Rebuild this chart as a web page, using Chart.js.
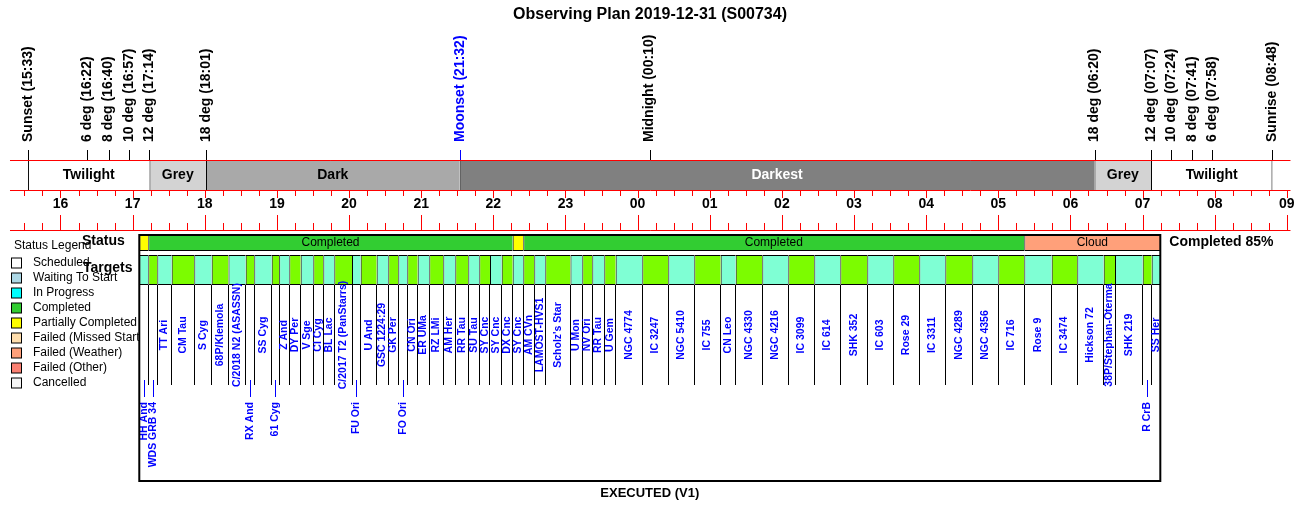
<!DOCTYPE html>
<html>
<head>
<meta charset="utf-8">
<title>Observing Plan 2019-12-31 (S00734)</title>
<script src="https://cdn.jsdelivr.net/npm/chart.js@4/dist/chart.umd.min.js"></script>
<style>
  html, body { margin: 0; padding: 0; background: #fff; }
  canvas { display: block; }
</style>
</head>
<body>
<canvas id="plan" width="1300" height="514"></canvas>
<script>
// --- DATOS ---
const planTitle = 'Observing Plan 2019-12-31 (S00734)';
const planVersion = 'EXECUTED (V1)';

// Eventos de la noche (marcas sobre la franja)
const eventNames = ['Sunset', '6 deg', '8 deg', '10 deg', '12 deg', '18 deg', 'Moonset', 'Midnight',
                    '18 deg', '12 deg', '10 deg', '8 deg', '6 deg', 'Sunrise'];
const eventTimes = ['15:33', '16:22', '16:40', '16:57', '17:14', '18:01', '21:32', '00:10',
                    '06:20', '07:07', '07:24', '07:41', '07:58', '08:48'];

// Franjas de oscuridad
const bandNames = ['Twilight', 'Grey', 'Dark', 'Darkest', 'Grey', 'Twilight'];
const bandEdges = ['15:33', '17:14', '18:01', '21:32', '06:20', '07:07', '08:48'];

// Etiquetas de las horas del eje
const hourLabels = ['16', '17', '18', '19', '20', '21', '22', '23', '00',
                    '01', '02', '03', '04', '05', '06', '07', '08', '09'];

// Objetivos del plan
const targetNames = [
  'HH And', 'WDS GRB 34', 'TT Ari', 'CM Tau', 'S Cyg', '68P/Klemola', 'C/2018 N2 (ASASSN)', 'RX And',
  'SS Cyg', '61 Cyg', 'Z And', 'DY Per', 'V Sge', 'CI Cyg', 'BL Lac', 'C/2017 T2 (PanStarrs)',
  'FU Ori', 'U And', 'GSC 1224:29', 'GK Per', 'FO Ori', 'CN Ori', 'ER UMa', 'RZ LMi',
  'AM Her', 'RR Tau', 'SU Tau', 'SY Cnc', 'SY Cnc', 'DX Cnc', 'SY Cnc', 'AM CVn',
  'LAMOST-HVS1', "Scholz's Star", 'U Mon', 'NV Ori', 'RR Tau', 'U Gem', 'NGC 4774', 'IC 3247',
  'NGC 5410', 'IC 755', 'CN Leo', 'NGC 4330', 'NGC 4216', 'IC 3099', 'IC 614', 'SHK 352',
  'IC 603', 'Rose 29', 'IC 3311', 'NGC 4289', 'NGC 4356', 'IC 716', 'Rose 9', 'IC 3474',
  'Hickson 72', '38P/Stephan-Oterma', 'SHK 219', 'R CrB', 'SS Her'
];
const targetStarts = [
  '17:05:32', '17:13:01', '17:20:31', '17:32:29', '17:51:17', '18:05:45', '18:19:44', '18:34:02',
  '18:41:11', '18:55:40', '19:01:54', '19:10:18', '19:19:47', '19:30:16', '19:38:35', '19:47:44',
  '20:02:27', '20:09:41', '20:22:59', '20:32:38', '20:40:57', '20:48:26', '20:57:05', '21:06:44',
  '21:18:23', '21:28:22', '21:39:11', '21:48:19', '21:57:13', '22:06:57', '22:16:06', '22:24:55',
  '22:34:04', '22:43:13', '23:04:11', '23:13:59', '23:22:19', '23:32:17', '23:41:46', '00:03:53',
  '00:25:31', '00:47:08', '01:09:06', '01:21:35', '01:43:42', '02:05:20', '02:26:57', '02:48:35',
  '03:11:02', '03:32:40', '03:54:17', '04:15:55', '04:38:22', '05:00:00', '05:21:37', '05:44:24',
  '06:05:41', '06:27:39', '06:37:03', '07:00:05', '07:07:35'
];
const planEnd = '07:14:44';
const targetStatus = [
  'Partial',
  'Completed', 'Completed', 'Completed', 'Completed', 'Completed', 'Completed', 'Completed', 'Completed',
  'Completed', 'Completed', 'Completed', 'Completed', 'Completed', 'Completed', 'Completed', 'Completed',
  'Completed', 'Completed', 'Completed', 'Completed', 'Completed', 'Completed', 'Completed', 'Completed',
  'Completed', 'Completed', 'Completed', 'Completed', 'Completed',
  'Partial',
  'Completed', 'Completed', 'Completed', 'Completed', 'Completed', 'Completed', 'Completed', 'Completed',
  'Completed', 'Completed', 'Completed', 'Completed', 'Completed', 'Completed', 'Completed', 'Completed',
  'Completed', 'Completed', 'Completed', 'Completed', 'Completed', 'Completed', 'Completed',
  'Cloud', 'Cloud', 'Cloud', 'Cloud', 'Cloud', 'Cloud', 'Cloud'
];

const legendLabels = ['Scheduled', 'Waiting To Start', 'In Progress', 'Completed', 'Partially Completed',
                      'Failed (Missed Start', 'Failed (Weather)', 'Failed (Other)', 'Cancelled'];

// --- ESTILOS ---
const FONT = '"Liberation Sans", Arial, sans-serif';
const bandColors = { 'Twilight': '#ffffff', 'Grey': '#d3d3d3', 'Dark': '#a9a9a9', 'Darkest': '#808080' };
const statusColors = { 'Partial': '#ffff00', 'Completed': '#32cd32', 'Cloud': '#ffa07a' };
const cellColors = ['#7fffd4', '#7cfc00'];
const legendColors = ['#ffffff', '#add8e6', '#00ffff', '#32cd32', '#ffff00', '#ffdead', '#ffa07a', '#fa8072', '#f5f5f5'];

// Ventana de tiempo visible y filas (unidades del eje y = filas del lienzo)
const viewStart = '15:09:41';
const viewEnd = '09:10:55';
const axisFrom = '15:18';
const axisTo = '09:03';
const ROW = {
  eventLabel: 142, eventTick: 150, bandTop: 160, bandBottom: 190,
  hourLabel: 204, axisBottom: 230,
  statusTop: 235, statusBottom: 251, targetTop: 255, targetBottom: 285,
  leaderBottom: 385, targetLabel: 335, belowTop: 380, belowBottom: 397, belowLabel: 402,
  frameBottom: 481
};
const SHORT_SLOT_MIN = 8; // minutos: objetivos más cortos llevan la etiqueta debajo

// --- UTILIDADES ---
function toHours(s) {
  const p = s.split(':').map(Number);
  const h = p[0] + (p[1] || 0) / 60 + (p[2] || 0) / 3600;
  return h < 12 ? h + 24 : h;
}

const starts = targetStarts.map(toHours);
const ends = starts.slice(1).concat([toHours(planEnd)]);

// Agrupa estados consecutivos para la fila "Status"
const statusSegments = [];
targetStatus.forEach((st, i) => {
  const last = statusSegments[statusSegments.length - 1];
  if (last && last.status === st) {
    last.end = ends[i];
  } else {
    statusSegments.push({ status: st, start: starts[i], end: ends[i] });
  }
});
const completedPct = Math.round(100 * targetStatus.filter(s => s === 'Completed').length / targetStatus.length);

function vText(ctx, text, x, y, align) {
  ctx.save();
  ctx.translate(x, y);
  ctx.rotate(-Math.PI / 2);
  ctx.textAlign = align;
  ctx.textBaseline = 'middle';
  ctx.fillText(text, 0, 0);
  ctx.restore();
}

function vLine(ctx, x, y1, y2) {
  const xx = Math.round(x) + 0.5;
  ctx.beginPath();
  ctx.moveTo(xx, y1);
  ctx.lineTo(xx, y2);
  ctx.stroke();
}

function hLine(ctx, x1, x2, y) {
  const yy = Math.round(y) + 0.5;
  ctx.beginPath();
  ctx.moveTo(x1, yy);
  ctx.lineTo(x2, yy);
  ctx.stroke();
}

// --- PLUGIN DE DECORACIÓN ---
const planPlugin = {
  id: 'planDecor',
  beforeDraw(chart) {
    const ctx = chart.ctx;
    ctx.save();
    ctx.fillStyle = '#ffffff';
    ctx.fillRect(0, 0, chart.width, chart.height);
    ctx.restore();
  },
  afterDatasetsDraw(chart) {
    const ctx = chart.ctx;
    const px = t => chart.scales.x.getPixelForValue(t);
    const py = v => chart.scales.y.getPixelForValue(v);
    ctx.save();

    // Título
    ctx.fillStyle = '#000';
    ctx.font = 'bold 16px ' + FONT;
    ctx.textAlign = 'center';
    ctx.textBaseline = 'middle';
    ctx.fillText(planTitle, chart.width / 2, py(15));

    // Eventos
    ctx.lineWidth = 1;
    ctx.font = 'bold 14px ' + FONT;
    eventNames.forEach((name, i) => {
      const x = px(toHours(eventTimes[i]));
      const color = name === 'Moonset' ? '#0000ff' : '#000000';
      ctx.strokeStyle = color;
      ctx.fillStyle = color;
      vLine(ctx, x, py(ROW.eventTick), py(ROW.bandTop));
      vText(ctx, name + ' (' + eventTimes[i] + ')', x, py(ROW.eventLabel), 'left');
    });

    // Etiquetas de las franjas
    ctx.textAlign = 'center';
    ctx.textBaseline = 'middle';
    bandNames.forEach((name, i) => {
      const x = (px(toHours(bandEdges[i])) + px(toHours(bandEdges[i + 1]))) / 2;
      ctx.fillStyle = name === 'Darkest' ? '#ffffff' : '#000000';
      ctx.fillText(name, x, py((ROW.bandTop + ROW.bandBottom) / 2));
    });

    // Eje de tiempo
    const x1 = px(toHours(axisFrom)), x2 = px(toHours(axisTo));
    ctx.strokeStyle = '#ff0000';
    hLine(ctx, x1, x2, py(ROW.bandTop));
    hLine(ctx, x1, x2, py(ROW.bandBottom));
    hLine(ctx, x1, x2, py(ROW.axisBottom));
    const firstHour = toHours(hourLabels[0] + ':00');
    const lastHour = toHours(hourLabels[hourLabels.length - 1] + ':00');
    for (let q = Math.ceil(toHours(axisFrom) * 4); q <= lastHour * 4; q++) {
      const x = px(q / 4);
      const isHour = q % 4 === 0;
      vLine(ctx, x, py(ROW.bandBottom), py(ROW.bandBottom) + (isHour ? 8 : 6));
      vLine(ctx, x, py(ROW.axisBottom) - (isHour ? 15 : 7), py(ROW.axisBottom));
    }
    ctx.fillStyle = '#000';
    hourLabels.forEach((lab, i) => {
      ctx.fillText(lab, px(firstHour + i), py(ROW.hourLabel));
    });

    // Texto de la fila de estado
    ctx.font = '12px ' + FONT;
    statusSegments.forEach(seg => {
      const a = px(seg.start), b = px(seg.end);
      if (ctx.measureText(seg.status).width + 6 < b - a) {
        ctx.fillText(seg.status, (a + b) / 2, py((ROW.statusTop + ROW.statusBottom) / 2));
      }
    });

    // Líneas guía y etiquetas de objetivos
    ctx.strokeStyle = '#000';
    starts.forEach(t => vLine(ctx, px(t) - 0.5, py(ROW.targetBottom), py(ROW.leaderBottom)));
    ctx.font = 'bold 10.5px ' + FONT;
    ctx.fillStyle = '#0000ff';
    ctx.strokeStyle = '#0000ff';
    targetNames.forEach((name, i) => {
      const cx = (px(starts[i]) + px(ends[i])) / 2;
      const minutes = (ends[i] - starts[i]) * 60;
      // el último objetivo tiene espacio libre a la derecha
      if (minutes < SHORT_SLOT_MIN && i < targetNames.length - 1) {
        vLine(ctx, cx, py(ROW.belowTop), py(ROW.belowBottom));
        vText(ctx, name, cx, py(ROW.belowLabel), 'right');
      } else {
        vText(ctx, name, cx, py(ROW.targetLabel), 'center');
      }
    });

    // Marco del plan
    ctx.strokeStyle = '#000';
    ctx.lineWidth = 2;
    const fx = px(starts[0]), fx2 = px(ends[ends.length - 1]);
    ctx.strokeRect(fx, py(ROW.statusTop), fx2 - fx, py(ROW.frameBottom) - py(ROW.statusTop));
    ctx.lineWidth = 1;

    // Rótulos laterales
    ctx.fillStyle = '#000';
    ctx.textAlign = 'left';
    ctx.font = '12px ' + FONT;
    ctx.fillText('Status Legend', 14, py(246));
    legendLabels.forEach((lab, i) => {
      const y = py(263 + i * 15);
      ctx.fillStyle = legendColors[i];
      ctx.fillRect(11.5, y - 5, 10, 10);
      ctx.strokeRect(11.5, y - 5, 10, 10);
      ctx.fillStyle = '#000';
      ctx.fillText(lab, 33, y);
    });
    ctx.font = 'bold 14px ' + FONT;
    ctx.fillText('Status', 82, py(241));
    ctx.fillText('Targets', 83, py(268));
    ctx.fillText('Completed ' + completedPct + '%', fx2 + 9, py(242));

    ctx.textAlign = 'center';
    ctx.font = 'bold 13px ' + FONT;
    ctx.fillText(planVersion, (fx + fx2) / 2, py(493));

    ctx.restore();
  }
};

// --- GRÁFICO ---
const bandRowY = (ROW.bandTop + ROW.bandBottom) / 2;
const statusRowY = (ROW.statusTop + ROW.statusBottom) / 2;
const targetRowY = (ROW.targetTop + ROW.targetBottom) / 2;

new Chart(document.getElementById('plan'), {
  type: 'bar',
  data: {
    datasets: [
      {
        label: 'Night',
        data: bandNames.map((n, i) => ({ x: [toHours(bandEdges[i]), toHours(bandEdges[i + 1])], y: bandRowY })),
        backgroundColor: bandNames.map(n => bandColors[n]),
        borderColor: '#000',
        borderWidth: ctx => ({ left: 1, right: ctx.dataIndex === bandNames.length - 1 ? 1 : 0, top: 0, bottom: 0 }),
        barThickness: ROW.bandBottom - ROW.bandTop
      },
      {
        label: 'Status',
        data: statusSegments.map(s => ({ x: [s.start, s.end], y: statusRowY })),
        backgroundColor: statusSegments.map(s => statusColors[s.status]),
        borderColor: '#000',
        borderWidth: { left: 1, right: 0, top: 1, bottom: 1 },
        barThickness: ROW.statusBottom - ROW.statusTop
      },
      {
        label: 'Targets',
        data: targetNames.map((n, i) => ({ x: [starts[i], ends[i]], y: targetRowY })),
        backgroundColor: targetNames.map((n, i) => cellColors[i % 2]),
        borderColor: '#000',
        borderWidth: { left: 1, right: 0, top: 1, bottom: 1 },
        barThickness: ROW.targetBottom - ROW.targetTop
      }
    ]
  },
  options: {
    indexAxis: 'y',
    responsive: false,
    animation: false,
    events: [],
    layout: { padding: 0 },
    datasets: { bar: { grouped: false, borderSkipped: false, inflateAmount: 0 } },
    plugins: {
      legend: { display: false },
      tooltip: { enabled: false },
      title: { display: false }
    },
    scales: {
      x: { type: 'linear', min: toHours(viewStart), max: toHours(viewEnd), offset: false, display: false },
      y: { type: 'linear', min: 0, max: 514, reverse: true, offset: false, display: false }
    }
  },
  plugins: [planPlugin]
});
</script>
</body>
</html>
